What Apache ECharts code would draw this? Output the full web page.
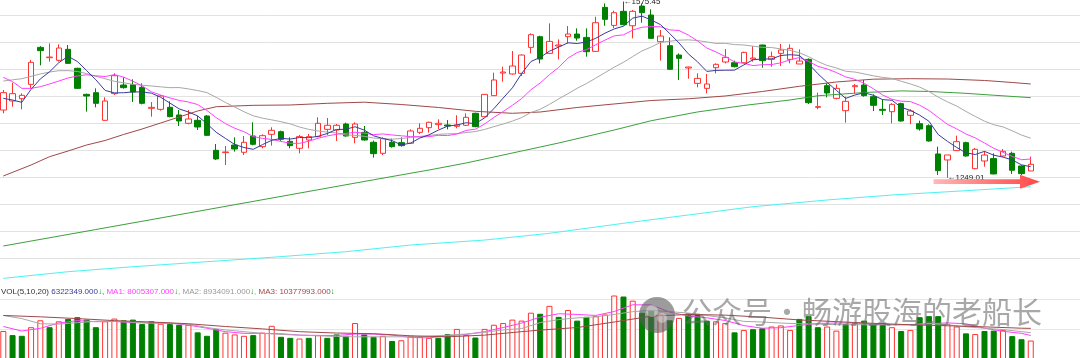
<!DOCTYPE html>
<html><head><meta charset="utf-8">
<script src="https://cdn.jsdelivr.net/npm/echarts@6/dist/echarts.min.js"></script>
<style>html,body{margin:0;padding:0;background:#fff;}#c{width:1080px;height:358px;}</style>
</head><body><div id="c"></div>
<script>
// ---- price data (one candle per slot) ----
const opens=[1374.6,1391.3,1395.6,1422.1,1490.6,1471.5,1466.6,1487.0,1451.8,1403.6,
1406.7,1355.5,1404.9,1420.9,1421.5,1416.6,1377.7,1375.9,1379.6,1365.4,
1350.0,1355.5,1363.5,1300.0,1295.7,1309.8,1296.3,1326.5,1306.8,1329.6,
1334.5,1316.6,1303.7,1319.1,1325.3,1338.8,1337.6,1348.7,1324.0,1333.3,
1314.8,1294.4,1314.8,1314.2,1313.0,1333.3,1341.9,1347.5,1346.9,1344.4,
1346.3,1368.5,1362.3,1401.2,1443.1,1441.3,1442.5,1490.6,1510.4,1479.5,
1493.1,1510.4,1515.3,1509.1,1483.2,1564.7,1531.3,1557.3,1530.7,1567.1,
1550.5,1501.1,1493.7,1476.4,1452.4,1424.0,1414.7,1453.0,1463.5,1462.2,
1462.2,1469.0,1495.0,1468.4,1479.5,1468.4,1459.8,1468.4,1379.6,1419.7,
1396.2,1373.4,1417.8,1420.9,1399.3,1375.9,1371.5,1386.4,1364.8,1349.3,
1345.6,1293.2,1282.1,1299.4,1314.2,1266.0,1280.2,1284.6,1289.5,1294.4,
1271.0,1261.7];
const closes=[1406.7,1404.9,1401.8,1462.9,1484.5,1472.7,1489.4,1461.0,1414.7,1400.5,
1387.0,1391.3,1438.2,1416.0,1408.0,1387.0,1379.6,1400.5,1362.3,1354.3,
1358.0,1343.2,1327.7,1284.0,1296.9,1302.4,1314.8,1311.1,1327.1,1337.0,
1320.3,1308.6,1325.3,1325.3,1350.0,1346.3,1346.3,1326.5,1348.7,1319.1,
1293.8,1321.6,1306.8,1308.6,1335.8,1340.7,1351.8,1350.0,1345.0,1346.9,
1361.1,1343.8,1403.6,1430.2,1445.0,1456.1,1476.4,1514.1,1469.0,1501.7,
1495.0,1515.3,1507.9,1482.6,1536.3,1542.5,1554.8,1532.6,1557.3,1554.8,
1507.3,1511.6,1450.0,1470.3,1454.2,1433.2,1422.8,1459.2,1472.1,1454.8,
1481.4,1470.9,1466.0,1473.4,1485.7,1488.8,1465.3,1388.2,1380.8,1406.1,
1414.7,1390.7,1419.7,1401.2,1383.3,1374.0,1385.1,1354.3,1372.8,1339.5,
1317.3,1262.3,1291.3,1316.0,1289.5,1301.8,1291.3,1256.2,1298.1,1263.0,
1256.8,1274.1];
const lows=[1368.5,1380.8,1375.9,1414.7,1457.3,1464.1,1464.1,1459.8,1414.1,1371.6,
1379.6,1355.0,1402.4,1414.1,1389.4,1385.1,1362.3,1373.4,1361.1,1345.0,
1348.1,1337.6,1326.5,1282.0,1272.8,1297.5,1291.3,1309.2,1303.7,1308.6,
1317.3,1303.7,1294.4,1303.7,1324.0,1328.4,1317.3,1325.3,1313.0,1317.9,
1286.4,1291.3,1304.9,1306.8,1311.7,1330.2,1332.7,1339.5,1338.8,1340.7,
1345.0,1342.6,1361.1,1400.5,1427.1,1440.0,1437.6,1479.5,1461.0,1478.3,
1468.4,1498.0,1503.0,1473.4,1482.0,1530.7,1526.4,1531.3,1507.3,1536.3,
1506.7,1466.0,1448.7,1430.2,1432.6,1416.6,1405.5,1442.5,1461.0,1453.6,
1461.0,1464.1,1453.0,1454.8,1456.1,1461.0,1459.8,1385.7,1375.9,1398.1,
1394.4,1351.2,1405.5,1399.3,1372.8,1365.4,1350.0,1353.0,1348.7,1336.4,
1316.0,1254.3,1249.01,1298.7,1288.3,1264.8,1269.7,1255.6,1288.3,1256.2,
1254.3,1261.7];
const highs=[1411.7,1425.2,1405.5,1467.2,1493.0,1498.0,1496.2,1495.0,1453.0,1404.9,
1414.7,1398.1,1442.5,1435.1,1431.4,1424.0,1389.4,1402.4,1390.7,1374.6,
1374.6,1363.5,1365.4,1311.7,1308.0,1324.0,1326.5,1351.8,1329.6,1342.6,
1336.4,1324.0,1328.4,1330.2,1361.1,1359.8,1348.7,1351.2,1351.8,1345.0,
1317.9,1324.0,1321.6,1324.0,1338.8,1350.0,1353.0,1357.4,1356.0,1364.8,
1368.5,1369.7,1404.2,1443.7,1454.8,1483.8,1477.7,1516.5,1512.2,1535.0,
1505.4,1530.1,1525.8,1525.8,1547.4,1572.0,1558.5,1575.45,1559.7,1572.0,
1561.0,1522.7,1509.1,1479.5,1454.8,1442.5,1441.3,1461.0,1487.5,1466.0,
1482.6,1493.1,1495.5,1482.6,1496.8,1496.2,1486.9,1470.3,1406.7,1424.0,
1422.1,1399.3,1422.8,1430.2,1403.6,1394.4,1387.0,1388.2,1375.9,1354.9,
1348.1,1306.8,1291.3,1327.1,1316.0,1304.3,1298.7,1294.4,1302.4,1297.5,
1272.2,1288.3];

// ---- moving averages ----
const ma5=[1396.2,1393.1,1388.8,1412.9,1432.2,1445.4,1462.3,1474.1,1464.5,1447.7,
1430.5,1410.9,1406.3,1406.6,1408.1,1408.1,1405.8,1398.2,1387.5,1376.7,
1370.9,1363.7,1349.1,1333.4,1322.0,1310.8,1305.2,1301.8,1310.5,1318.5,
1322.1,1320.8,1323.7,1323.3,1325.9,1331.1,1338.6,1338.9,1343.6,1337.4,
1326.9,1321.9,1318.0,1310.0,1313.3,1322.7,1328.7,1337.4,1344.7,1346.9,
1351.0,1349.4,1360.1,1377.1,1396.7,1415.7,1442.3,1464.4,1472.1,1483.5,
1491.2,1499.0,1497.8,1500.5,1507.4,1516.9,1524.8,1529.8,1544.7,1548.4,
1541.4,1532.7,1516.2,1498.8,1478.7,1463.9,1446.1,1447.9,1448.3,1448.4,
1458.1,1467.7,1469.0,1469.3,1475.5,1477.0,1475.8,1460.3,1441.8,1425.8,
1411.0,1396.1,1402.4,1406.5,1401.9,1393.8,1392.7,1379.6,1373.9,1365.1,
1353.8,1329.2,1316.6,1305.3,1295.3,1292.2,1298.0,1291.0,1287.4,1282.1,
1273.1,1269.6];
const ma10=[1435.1,1427.1,1414.7,1414.7,1417.8,1422.8,1428.3,1433.9,1437.6,1439.9,
1437.9,1436.6,1440.2,1435.5,1427.9,1419.3,1408.3,1402.3,1397.0,1392.4,
1389.5,1384.7,1373.7,1360.5,1349.4,1340.9,1334.4,1325.5,1322.0,1320.2,
1316.5,1313.0,1312.8,1316.9,1322.2,1326.6,1329.7,1331.3,1333.4,1331.6,
1329.0,1330.3,1328.4,1326.8,1325.4,1324.8,1325.3,1327.7,1327.3,1330.1,
1336.8,1339.1,1348.7,1360.9,1371.8,1383.4,1395.8,1412.2,1424.6,1440.1,
1453.5,1470.6,1481.1,1486.3,1495.4,1504.1,1511.9,1513.8,1522.6,1527.9,
1529.1,1528.8,1523.0,1521.8,1513.5,1502.6,1489.4,1482.1,1473.6,1463.6,
1461.0,1456.9,1458.5,1458.8,1462.0,1467.5,1471.8,1464.7,1455.5,1450.7,
1444.0,1436.0,1431.3,1424.1,1413.9,1402.4,1394.4,1391.0,1390.2,1383.5,
1373.8,1361.0,1348.1,1339.6,1330.2,1323.0,1313.6,1303.8,1296.3,1288.7,
1282.6,1283.8];
const ma20=[1428.3,1430.5,1432.6,1437.0,1441.3,1445.0,1447.4,1447.5,1446.0,1442.0,
1437.1,1432.5,1427.8,1425.0,1422.2,1420.5,1419.1,1417.5,1416.0,1416.2,
1413.7,1410.6,1406.9,1398.0,1388.6,1380.1,1371.4,1363.9,1359.5,1356.3,
1353.0,1348.9,1343.2,1338.7,1335.8,1333.7,1332.1,1328.4,1327.7,1325.9,
1322.7,1321.6,1320.6,1321.8,1323.8,1325.7,1327.5,1329.5,1330.4,1330.9,
1332.9,1334.7,1338.6,1343.8,1348.6,1354.1,1360.6,1370.0,1376.0,1385.1,
1395.2,1404.8,1414.9,1423.6,1433.6,1443.7,1453.9,1463.0,1473.6,1484.0,
1491.3,1499.7,1502.0,1504.0,1504.5,1503.3,1500.7,1497.9,1498.1,1495.7,
1495.1,1492.8,1490.7,1490.3,1487.7,1485.1,1480.6,1473.4,1464.5,1457.1,
1452.5,1446.4,1444.9,1441.5,1437.9,1435.0,1433.1,1427.8,1422.9,1417.1,
1408.9,1398.5,1389.7,1381.9,1372.0,1362.7,1354.0,1347.4,1343.3,1336.1,
1328.2,1322.4];
// [candle index, value]
const ma60=[[0,1252.4],[3,1272.8],[5,1288.2],[7,1298.7],[9,1309.8],[11,1318.2],[13,1329.3],[15,1339.5],[17,1350.6],[19,1361.7],[21,1372.8],[23,1380.7],[27,1383.3],[31,1383.9],[35,1387.0],[39,1389.1],[43,1384.8],[47,1379.3],[51,1372.2],[55,1368.5],[58,1370.9],[62,1379.3],[66,1385.8],[70,1392.2],[74,1395.4],[78,1400.6],[82,1408.9],[86,1418.5],[90,1426.5],[94,1431.7],[98,1432.6],[102,1432.0],[106,1429.3],[109,1425.6],[111,1422.8]];
const ma120=[[0,1122.8],[10,1153.3],[20,1183.9],[30,1214.6],[40,1245.4],[46,1263.5],[50,1276.5],[56,1298.7],[60,1313.5],[66,1337.6],[70,1354.8],[75,1371.0],[80,1383.0],[85,1393.2],[88,1401.0],[93,1407.0],[97,1410.0],[100,1409.0],[104,1405.5],[107,1402.0],[111,1397.5]];
const ma250=[[0,1062.9],[7,1075.2],[14,1084.4],[22,1093.7],[29,1101.8],[37,1112.2],[44,1124.6],[52,1133.8],[59,1146.3],[67,1164.8],[74,1180.2],[81,1195.6],[89,1208.0],[96,1217.2],[104,1225.2],[111,1232.6]];

// ---- volume (millions of shares) ----
const volume=[9.51,8.13,7.90,10.77,13.07,10.77,12.73,13.53,14.10,13.30,
10.77,12.73,13.64,13.07,13.30,11.81,12.73,11.92,11.81,11.58,
11.58,9.05,7.90,10.09,8.94,8.36,7.90,8.13,8.94,11.23,
7.56,7.22,6.99,7.22,8.13,7.22,8.36,7.90,12.15,8.36,
7.56,7.90,6.18,6.41,7.90,7.56,7.22,7.22,8.48,10.20,
8.13,7.33,10.20,11.58,12.15,13.30,12.96,15.60,15.25,17.89,
14.22,16.51,12.96,14.22,14.45,15.02,21.33,20.99,19.61,15.60,
16.40,15.02,13.07,13.87,15.37,15.25,12.96,12.73,12.15,9.05,
9.86,10.09,10.43,11.00,11.35,9.86,13.53,14.45,10.77,11.00,
9.63,11.81,12.15,12.96,11.81,12.15,10.77,9.51,9.86,14.10,
14.45,14.45,11.81,11.00,8.71,8.48,9.51,9.63,9.86,7.79,
6.76,6.322349];
// 1 = red (up) bar, 0 = green (down) bar
const volUp=[1,0,0,1,1,0,1,0,0,0, 0,1,1,0,0,0,0,1,0,0, 1,0,0,0,1,1,1,0,1,1,
0,0,1,0,1,0,0,0,1,0, 0,1,0,1,1,1,1,0,0,1, 1,0,1,1,1,1,1,1,0,1,
0,1,0,0,1,1,1,0,1,0, 0,1,0,1,0,0,0,1,1,0, 1,0,0,1,1,1,0,0,0,1,
1,0,1,0,0,0,1,0,1,0, 0,0,1,1,0,1,0,0,1,0, 0,1];
const volMa5=[[0,11.0],[2,9.5],[4,10.4],[6,12.15],[8,12.96],[10,12.6],[12,12.7],[14,12.27],[16,12.15],[18,12.15],[20,11.46],[22,10.43],[24,9.28],[26,8.71],[28,8.71],[30,8.59],[32,8.13],[34,8.02],[36,8.02],[38,8.48],[40,8.48],[42,8.13],[44,7.33],[46,7.22],[48,7.9],[50,8.36],[52,9.28],[54,10.66],[56,12.15],[58,14.1],[60,15.25],[62,15.02],[64,14.68],[66,16.0],[68,18.24],[70,18.2],[72,15.8],[74,14.5],[76,13.9],[78,13.0],[80,11.3],[82,10.43],[84,10.6],[86,11.35],[88,12.04],[90,12.15],[92,12.15],[94,11.81],[96,11.58],[98,11.58],[100,11.9],[102,12.2],[104,11.92],[106,10.43],[108,9.4],[110,8.71],[111,8.005307]];
const volMa10=[[0,14.68],[2,13.64],[4,11.92],[6,11.81],[8,12.27],[10,12.73],[12,12.73],[16,12.15],[20,11.81],[22,10.66],[24,9.86],[26,9.28],[28,8.71],[30,8.36],[32,8.13],[34,7.9],[36,7.68],[38,7.56],[40,7.56],[42,7.56],[44,7.56],[46,7.79],[48,8.13],[50,8.48],[52,9.05],[54,9.86],[56,10.3],[58,12.3],[60,13.3],[62,13.87],[64,14.22],[66,15.02],[68,15.94],[70,16.4],[72,15.94],[74,15.48],[76,14.68],[78,13.87],[80,12.7],[82,12.5],[84,12.15],[86,11.92],[88,11.81],[90,11.6],[92,11.58],[94,11.58],[96,11.58],[98,11.6],[100,12.0],[102,11.6],[104,10.89],[106,10.43],[108,9.97],[110,9.28],[111,8.934091]];
const volMa20=[[0,14.68],[4,14.22],[8,13.64],[12,12.96],[16,12.5],[20,11.92],[24,11.0],[28,10.2],[32,9.28],[36,8.82],[40,8.6],[44,7.9],[48,7.56],[52,8.13],[56,9.28],[58,9.8],[62,10.66],[66,12.5],[70,14.45],[74,15.02],[78,14.79],[82,14.1],[86,13.19],[90,12.61],[94,12.04],[98,11.58],[102,11.23],[106,10.89],[110,10.43],[111,10.377993]];
const volHeaderVals=[6322349,8005307,8934091,10377993];

// ---- annotations ----
const highMark=[67,1575.45];
const lowMark=[102,1249.01];
const arrowFrom=[100.5,1241.9], arrowTo=[112,1241.9];

const SLOTS=117;
const categories=Array.from({length:SLOTS},(_, i)=>'K'+(i+1));
const candleData=opens.map((o,i)=>[o,closes[i],lows[i],highs[i]]);

const RED='#ff3232', GREEN='#008000';
const FONT='"Liberation Sans","DejaVu Sans",sans-serif';

function maLine(data,color,z){
  return {type:'line',xAxisIndex:0,yAxisIndex:0,data:data,symbol:'none',showSymbol:false,
    lineStyle:{color:color,width:1},z:z||3,silent:true,animation:false,connectNulls:true};
}
function volLine(data,color){
  return {type:'line',xAxisIndex:1,yAxisIndex:1,data:data,symbol:'none',showSymbol:false,
    lineStyle:{color:color,width:1},z:3,silent:true,animation:false};
}

const chart=echarts.init(document.getElementById('c'),null,{renderer:'canvas',width:1080,height:358});
const fmt=v=>v.toFixed(3);
const header='{k|VOL(5,10,20)} {v|'+fmt(volHeaderVals[0])+'}{a|↓}{v|,} {m|MA1: '+fmt(volHeaderVals[1])+'}{a|↓}{m|,} {s|MA2: '+fmt(volHeaderVals[2])+'}{a|↓}{s|,} {r|MA3: '+fmt(volHeaderVals[3])+'}{a|↓}';

chart.setOption({
  animation:false,
  backgroundColor:'#ffffff',
  grid:[
    {left:-1.33,width:1083,top:-11.7,height:297,containLabel:false,outerBoundsMode:'none'},
    {left:-1.33,width:1083,top:286.7,height:72.8,containLabel:false,outerBoundsMode:'none'}
  ],
  xAxis:[
    {type:'category',gridIndex:0,data:categories,boundaryGap:true,axisLine:{show:false},axisTick:{show:false},axisLabel:{show:false},splitLine:{show:false}},
    {type:'category',gridIndex:1,data:categories,boundaryGap:true,position:'top',axisLine:{show:true,lineStyle:{color:'#a8a8a8',width:1}},axisTick:{show:false},axisLabel:{show:false},splitLine:{show:false}}
  ],
  yAxis:[
    {type:'value',gridIndex:0,min:1050,max:1600,interval:50,axisLine:{show:false},axisTick:{show:false},axisLabel:{show:false},
      splitLine:{show:true,showMinLine:false,showMaxLine:false,lineStyle:{color:'#e2e2e2',width:1}}},
    {type:'value',gridIndex:1,min:0,max:24.267,interval:10,axisLine:{show:false},axisTick:{show:false},axisLabel:{show:false},
      splitLine:{show:true,showMinLine:false,showMaxLine:false,lineStyle:{color:'#e6e6e6',width:1}}}
  ],
  series:[
    {type:'candlestick',xAxisIndex:0,yAxisIndex:0,data:candleData,barWidth:6,z:2,silent:true,
      itemStyle:{color:'#ffffff',color0:GREEN,borderColor:RED,borderColor0:GREEN,borderWidth:1},
      markPoint:{symbol:'circle',symbolSize:0,silent:true,animation:false,
        label:{show:true,position:'right',distance:0,color:'#222',fontSize:8,fontFamily:FONT,
          formatter:p=>'←'+p.value.toFixed(2)},
        data:[{coord:highMark,value:highMark[1]},{coord:lowMark,value:lowMark[1]}]}
    },
    maLine(ma250,'#4cf2f2'),
    maLine(ma120,'#3ca03c'),
    maLine(ma60,'#a04848'),
    maLine(ma20,'#a8a8a8'),
    maLine(ma10,'#ff40ff'),
    maLine(ma5,'#3a3a9a'),
    {type:'bar',xAxisIndex:1,yAxisIndex:1,barWidth:6,silent:true,z:2,
      data:volume.map((v,i)=>({value:v,itemStyle:volUp[i]?{color:'#ffffff',borderColor:RED,borderWidth:1}:{color:GREEN,borderColor:GREEN,borderWidth:1}}))},
    volLine(volMa5,'#ff40ff'),
    volLine(volMa10,'#a8a8a8'),
    volLine(volMa20,'#a04848')
  ]
});

// pixel helpers from the library's own scales
function px(pt){return chart.convertToPixel({xAxisIndex:0,yAxisIndex:0},pt);}
const a0=px([Math.floor(arrowFrom[0]),arrowFrom[1]]), a0b=px([Math.floor(arrowFrom[0])+1,arrowFrom[1]]);
const x0=a0[0]+(a0b[0]-a0[0])*(arrowFrom[0]-Math.floor(arrowFrom[0]));
const x1=px(arrowTo)[0], yc=a0[1];
const xh=x1-20;

chart.setOption({graphic:[
  {type:'polygon',z:50,silent:true,shape:{points:[[x0,yc-2.4],[xh,yc-2.4],[xh,yc-7],[x1,yc],[xh,yc+7],[xh,yc+2.4],[x0,yc+2.4]]},
    style:{fill:new echarts.graphic.LinearGradient(0,0,1,0,[{offset:0,color:'#ffb8b8'},{offset:0.6,color:'#ff7070'},{offset:1,color:'#ff4a4a'}])}},
  {type:'text',z:60,silent:true,left:1,top:287.5,
    style:{text:header,font:'8px '+FONT,fill:'#333',
      rich:{k:{fill:'#333',fontSize:8,fontFamily:FONT},v:{fill:'#3a3a9a',fontSize:8,fontFamily:FONT},
        m:{fill:'#ff40ff',fontSize:8,fontFamily:FONT},s:{fill:'#999999',fontSize:8,fontFamily:FONT},
        r:{fill:'#a04848',fontSize:8,fontFamily:FONT},a:{fill:'#00a000',fontSize:8,fontFamily:FONT}}}},
  {type:'circle',z:70,silent:true,shape:{cx:657,cy:315,r:18},style:{fill:'rgba(90,90,90,0.6)'}},
  {type:'circle',z:71,silent:true,shape:{cx:652,cy:311,r:6},style:{fill:'rgba(255,255,255,0.35)'}},
  {type:'circle',z:71,silent:true,shape:{cx:662,cy:318,r:5},style:{fill:'rgba(255,255,255,0.35)'}},
  {type:'text',z:70,silent:true,left:682,top:297,
    style:{text:'公众号・畅游股海的老船长',font:'30px "Noto Sans CJK SC"',fill:'rgba(105,105,105,0.58)'}}
]});
</script></body></html>
